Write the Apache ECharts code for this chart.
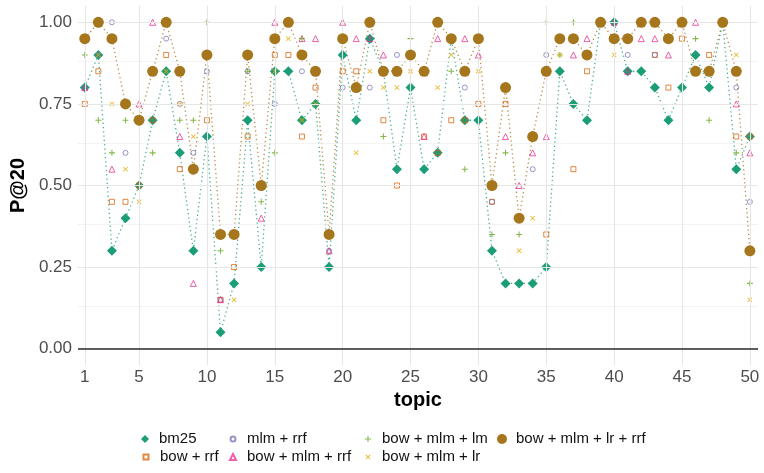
<!DOCTYPE html>
<html>
<head>
<meta charset="utf-8">
<script src="https://cdn.jsdelivr.net/npm/echarts@6/dist/echarts.min.js"></script>
<style>
html,body{margin:0;padding:0;background:#fff;}
#c{width:764px;height:473px;}
</style>
</head>
<body>
<div id="c"></div>
<script>
const topics = [1,2,3,4,5,6,7,8,9,10,11,12,13,14,15,16,17,18,19,20,21,22,23,24,25,26,27,28,29,30,31,32,33,34,35,36,37,38,39,40,41,42,43,44,45,46,47,48,49,50];
const xTicks = [1,5,10,15,20,25,30,35,40,45,50];
const yTicks = [0,0.25,0.5,0.75,1];
const yMinor = [0.125,0.375,0.625,0.875];

const bm25 = [0.80,0.90,0.30,0.40,0.50,0.70,0.85,0.60,0.30,0.65, 0.05,0.20,0.70,0.25,0.85,0.85,0.70,0.75,0.25,0.90, 0.70,0.95,0.85,0.55,0.80,0.55,0.60,0.95,0.70,0.70, 0.30,0.20,0.20,0.20,0.25,0.85,0.75,0.70,1.00,1.00, 0.85,0.85,0.80,0.70,0.80,0.90,0.80,1.00,0.55,0.65];
const bowRrf = [0.75,0.85,0.45,0.45,0.50,0.70,0.90,0.55,0.55,0.70, 0.15,0.25,0.65,0.50,0.90,0.90,0.65,0.80,0.35,0.85, 0.85,1.00,0.70,0.50,0.90,0.65,0.60,0.70,0.70,0.75, 0.45,0.75,0.40,0.65,0.35,0.95,0.55,0.85,1.00,0.95, 0.95,1.00,0.90,0.80,0.95,0.85,0.90,1.00,0.65,0.65];
const mlmRrf = [0.80,0.90,1.00,0.60,0.70,0.85,0.95,0.75,0.60,0.85, 0.15,0.35,0.85,0.50,0.75,1.00,0.85,0.85,0.30,0.80, 0.80,0.80,0.85,0.90,0.90,0.85,1.00,0.95,0.80,0.95, 0.45,0.80,0.40,0.55,0.90,0.95,0.95,0.90,1.00,0.95, 0.90,1.00,0.90,0.95,1.00,0.85,0.85,1.00,0.80,0.45];
const bowMlmRrf = [0.80,1.00,0.55,0.75,0.75,1.00,1.00,0.65,0.20,0.90, 0.15,0.35,0.90,0.40,1.00,1.00,0.95,0.95,0.30,1.00, 0.95,0.95,0.90,0.85,0.90,0.65,0.95,0.95,0.95,0.90, 0.50,0.65,0.50,0.60,0.65,0.95,0.90,0.95,1.00,1.00, 0.85,0.95,0.95,0.90,1.00,1.00,0.85,1.00,0.75,0.60];
const bowMlmLm = [0.90,0.70,0.60,0.70,0.70,0.60,1.00,0.70,0.70,1.00, 0.30,0.35,0.85,0.45,0.60,1.00,0.95,0.85,0.35,0.95, 0.80,1.00,0.65,0.85,0.95,0.85,1.00,0.85,0.55,0.95, 0.35,0.60,0.35,0.65,1.00,0.90,1.00,0.90,1.00,0.95, 0.95,1.00,1.00,0.95,1.00,0.95,0.70,1.00,0.60,0.20];
const bowMlmLr = [0.95,0.90,0.75,0.55,0.45,0.85,0.85,0.75,0.65,0.90, 0.35,0.15,0.75,0.50,0.85,0.95,0.70,0.75,0.35,0.95, 0.60,0.85,0.80,0.80,0.85,0.85,0.80,0.90,0.85,0.85, 0.50,0.80,0.30,0.40,0.85,0.90,0.95,0.90,1.00,0.90, 0.95,1.00,1.00,0.95,1.00,0.85,0.85,1.00,0.90,0.15];
const bowMlmLrRrf = [0.95,1.00,0.95,0.75,0.70,0.85,1.00,0.85,0.55,0.90, 0.35,0.35,0.90,0.50,0.95,1.00,0.90,0.85,0.35,0.95, 0.80,1.00,0.85,0.85,0.90,0.85,1.00,0.95,0.85,0.95, 0.50,0.80,0.40,0.65,0.85,0.95,0.95,0.90,1.00,0.95, 0.95,1.00,1.00,0.95,1.00,0.85,0.85,1.00,0.85,0.30];

const C = {bm25:'#1B9E77', bowRrf:'#D95F02', mlmRrf:'#7570B3', bowMlmRrf:'#E7298A', bowMlmLm:'#66A61E', bowMlmLr:'#E6AB02', all:'#A6761D'};
const PLUS = 'path://M4.1,0L5.9,0L5.9,4.1L10,4.1L10,5.9L5.9,5.9L5.9,10L4.1,10L4.1,5.9L0,5.9L0,4.1L4.1,4.1Z';
const CROSS = 'path://M0,1.3L1.3,0L5,3.7L8.7,0L10,1.3L6.3,5L10,8.7L8.7,10L5,6.3L1.3,10L0,8.7L3.7,5Z';

function pairs(vals){ return topics.map((t,i)=>[t, vals[i]]); }

const hollow = (c)=>({color:'rgba(255,255,255,0)', borderColor:c, borderWidth:1, opacity:0.75});

const gridLines = [];
yTicks.forEach(v=>gridLines.push({yAxis:v, lineStyle:{color:'#e6e6e6', width:1.1, type:'solid'}}));
yMinor.forEach(v=>gridLines.push({yAxis:v, lineStyle:{color:'#eeeeee', width:0.7, type:'solid'}}));
xTicks.forEach(v=>gridLines.push({xAxis:v, lineStyle:{color:'#e6e6e6', width:1.1, type:'solid'}}));
gridLines.push({yAxis:0, lineStyle:{color:'#2b2b2b', width:1.6, type:'solid'}});

const series = [
  {name:'grid', type:'scatter', data:[], z:1, silent:true,
   markLine:{silent:true, symbol:['none','none'], label:{show:false}, animation:false, data:gridLines}},
  {name:'bm25-line', type:'line', data:pairs(bm25), showSymbol:false, symbol:'none', z:2,
   lineStyle:{color:C.bm25, width:1.3, type:[1.3,3], opacity:0.8}},
  {name:'all-line', type:'line', data:pairs(bowMlmLrRrf), showSymbol:false, symbol:'none', z:2,
   lineStyle:{color:C.all, width:1.3, type:[1.3,3], opacity:0.8}},
  {name:'bm25', type:'scatter', data:pairs(bm25), symbol:'diamond', symbolSize:10, z:3,
   itemStyle:{color:C.bm25, opacity:1}},
  {name:'bow + rrf', type:'scatter', data:pairs(bowRrf), symbol:'rect', symbolSize:5, z:4,
   itemStyle:hollow(C.bowRrf)},
  {name:'mlm + rrf', type:'scatter', data:pairs(mlmRrf), symbol:'circle', symbolSize:5, z:4,
   itemStyle:hollow(C.mlmRrf)},
  {name:'bow + mlm + rrf', type:'scatter', data:pairs(bowMlmRrf), symbol:'triangle', symbolSize:6, z:4,
   itemStyle:hollow(C.bowMlmRrf)},
  {name:'bow + mlm + lm', type:'scatter', data:pairs(bowMlmLm), symbol:PLUS, symbolSize:6, z:4,
   itemStyle:{color:C.bowMlmLm, opacity:0.8}},
  {name:'bow + mlm + lr', type:'scatter', data:pairs(bowMlmLr), symbol:CROSS, symbolSize:5, z:4,
   itemStyle:{color:C.bowMlmLr, opacity:0.8}},
  {name:'bow + mlm + lr + rrf', type:'scatter', data:pairs(bowMlmLrRrf), symbol:'circle', symbolSize:11, z:5,
   itemStyle:{color:C.all, opacity:1}}
];

function leg(name, cx, cy, w, icon){
  return {
    data:[{name:name, icon:icon}],
    left: cx - w/2, top: cy - 8,
    itemWidth:w, itemHeight:w, itemGap:0,
    selectedMode:false,
    textStyle:{fontFamily:'Liberation Sans', fontSize:15, color:'#111', lineHeight:16, padding:[0,0,0,Math.max(0, 9 - w/2)]}
  };
}

const legends = [
  leg('bm25', 140, 434, 8, 'diamond'),
  leg('mlm + rrf', 227, 434, 5, 'circle'),
  leg('bow + mlm + lm', 363, 434, 6, PLUS),
  leg('bow + mlm + lr + rrf', 497, 434, 10, 'circle'),
  leg('bow + rrf', 140, 452, 5, 'rect'),
  leg('bow + mlm + rrf', 227, 452, 6, 'triangle'),
  leg('bow + mlm + lr', 363, 452, 5, CROSS)
];

const chart = echarts.init(document.getElementById('c'), null, {renderer:'canvas'});
chart.setOption({
  animation:false,
  backgroundColor:'#ffffff',
  textStyle:{fontFamily:'Liberation Sans'},
  grid:{left:67, right:6, top:6, bottom:108, containLabel:false},
  xAxis:{type:'value', min:0.5, max:50.6,
    name:'topic', nameLocation:'middle', nameGap:23,
    nameTextStyle:{fontFamily:'Liberation Sans', fontSize:20, fontWeight:'bold', color:'#000'},
    axisLine:{show:false}, axisTick:{show:false}, splitLine:{show:false},
    axisLabel:{customValues:xTicks, fontSize:17, color:'#4d4d4d', margin:4, fontFamily:'Liberation Sans'}},
  yAxis:{type:'value', min:-0.05, max:1.05,
    name:'P@20', nameLocation:'middle', nameGap:40,
    nameTextStyle:{fontFamily:'Liberation Sans', fontSize:20, fontWeight:'bold', color:'#000'},
    axisLine:{show:false}, axisTick:{show:false}, splitLine:{show:false},
    axisLabel:{customValues:yTicks, fontSize:17, color:'#4d4d4d', margin:6, fontFamily:'Liberation Sans',
      formatter:(v)=>Number(v).toFixed(2)}},
  legend:legends,
  series:series
});
</script>
</body>
</html>
